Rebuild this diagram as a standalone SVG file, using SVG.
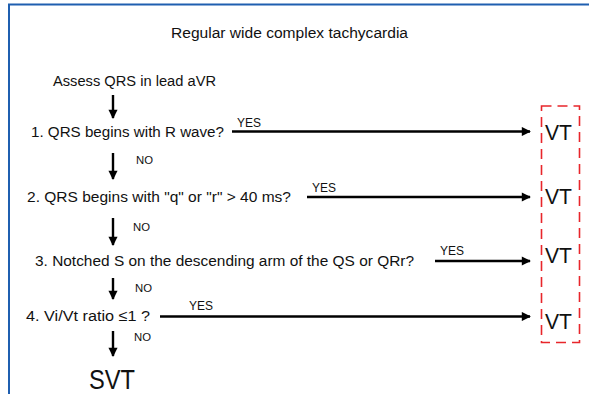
<svg xmlns="http://www.w3.org/2000/svg" width="589" height="394" viewBox="0 0 589 394">
  <defs>
    <marker id="head" viewBox="0 0 10 10" refX="9" refY="5" markerWidth="4.2" markerHeight="3.8" orient="auto" markerUnits="strokeWidth">
      <path d="M0,0 L10,5 L0,10 Z" fill="#000"/>
    </marker>
    <style>
      text { font-family: "Liberation Sans", "DejaVu Sans", sans-serif; fill: #111; }
      .q { font-size: 15.5px; }
      .lbl { font-size: 12.5px; }
      .no { font-size: 11.5px; }
      .vt { font-size: 22px; }
      .arr { stroke: #000; stroke-width: 2.4; fill: none; marker-end: url(#head); }
      .frame { stroke: #1f5fb0; stroke-width: 2; fill: none; }
    </style>
  </defs>
  <rect width="589" height="394" fill="#fff"/>

  <!-- page frame -->
  <path class="frame" d="M9,394 V4.5 H589"/>

  <g id="title">
    <text class="q" x="171" y="38" textLength="237" lengthAdjust="spacingAndGlyphs">Regular wide complex tachycardia</text>
  </g>

  <g id="start">
    <text class="q" x="53" y="86" textLength="163" lengthAdjust="spacingAndGlyphs">Assess QRS in lead aVR</text>
  </g>

  <g id="step1">
    <text class="q" x="31" y="137" textLength="193" lengthAdjust="spacingAndGlyphs">1. QRS begins with R wave?</text>
  </g>
  <g id="step2">
    <text class="q" x="27" y="202" textLength="264" lengthAdjust="spacingAndGlyphs">2. QRS begins with "q" or "r" &gt; 40 ms?</text>
  </g>
  <g id="step3">
    <text class="q" x="35" y="266" textLength="379" lengthAdjust="spacingAndGlyphs">3. Notched S on the descending arm of the QS or QRr?</text>
  </g>
  <g id="step4">
    <text class="q" x="26" y="321" textLength="124" lengthAdjust="spacingAndGlyphs">4. Vi/Vt ratio ≤1 ?</text>
  </g>

  <g id="svt">
    <text x="89" y="389" font-size="27" textLength="46" lengthAdjust="spacingAndGlyphs">SVT</text>
  </g>

  <g id="vt">
    <rect x="541.5" y="106" width="38" height="236.5" fill="none" stroke="#e8262b" stroke-width="1.6" stroke-dasharray="10,6"/>
    <text class="vt" x="545" y="140" textLength="27" lengthAdjust="spacingAndGlyphs">VT</text>
    <text class="vt" x="545" y="204" textLength="27" lengthAdjust="spacingAndGlyphs">VT</text>
    <text class="vt" x="545" y="263" textLength="27" lengthAdjust="spacingAndGlyphs">VT</text>
    <text class="vt" x="545" y="329" textLength="27" lengthAdjust="spacingAndGlyphs">VT</text>
  </g>

  <g id="connectors">
    <!-- downward "NO" path -->
    <line class="arr" x1="113" y1="95" x2="113" y2="118"/>
    <line class="arr" x1="113" y1="153" x2="113" y2="179"/>
    <line class="arr" x1="113" y1="218" x2="113" y2="245"/>
    <line class="arr" x1="113" y1="278" x2="113" y2="299"/>
    <line class="arr" x1="113" y1="331" x2="113" y2="356"/>
    <!-- "YES" branches to VT -->
    <line class="arr" x1="232" y1="131.5" x2="530" y2="131.5"/>
    <line class="arr" x1="307" y1="197" x2="530" y2="197"/>
    <line class="arr" x1="435" y1="261" x2="530" y2="261"/>
    <line class="arr" x1="160" y1="316.5" x2="530" y2="316.5"/>
  </g>

  <g id="labels">
    <text class="lbl" x="237" y="127" textLength="24" lengthAdjust="spacingAndGlyphs">YES</text>
    <text class="lbl" x="312" y="192" textLength="24" lengthAdjust="spacingAndGlyphs">YES</text>
    <text class="lbl" x="440" y="255" textLength="24" lengthAdjust="spacingAndGlyphs">YES</text>
    <text class="lbl" x="189" y="310" textLength="24" lengthAdjust="spacingAndGlyphs">YES</text>
    <text class="no" x="136" y="164" textLength="17" lengthAdjust="spacingAndGlyphs">NO</text>
    <text class="no" x="133" y="231" textLength="17" lengthAdjust="spacingAndGlyphs">NO</text>
    <text class="no" x="135" y="292" textLength="17" lengthAdjust="spacingAndGlyphs">NO</text>
    <text class="no" x="134" y="341" textLength="17" lengthAdjust="spacingAndGlyphs">NO</text>
  </g>
</svg>
